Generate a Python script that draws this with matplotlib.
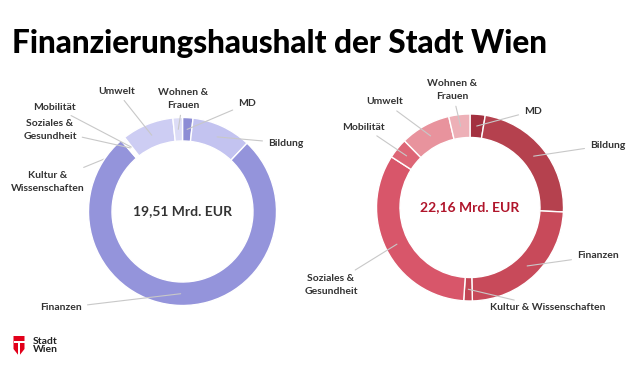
import numpy as np
import matplotlib.pyplot as plt
from matplotlib.patches import Polygon, Rectangle

plt.rcParams['font.family'] = ['Lato', 'DejaVu Sans']

# Anteile in Mrd. EUR
categories = ['MD', 'Bildung', 'Finanzen', 'Kultur & Wissenschaften',
              'Soziales & Gesundheit', 'Mobilität', 'Umwelt', 'Wohnen & Frauen']
einnahmen = [0.35, 2.00, 14.95, 0.05, 0.05, 0.05, 1.74, 0.32]
ausgaben = [0.58, 5.13, 5.28, 0.33, 7.32, 0.78, 1.93, 0.81]
totals = ['19,51 Mrd. EUR', '22,16 Mrd. EUR']

colors_left = ['#8d8dd5', '#c3c3f0', '#9494db', '#a5a5e0', '#b3b3e6',
               '#bdbdea', '#cdcdf3', '#dcdcf6']
colors_right = ['#a3303f', '#b5414e', '#c84a5a', '#c24555', '#d8566a',
                '#dd6676', '#e8939d', '#edb0b7']

# label positions (pixel coords, y from top) and alignment
labels_left = {
    'MD': ('MD', 238, 104, 'left'),
    'Bildung': ('Bildung', 268, 143, 'left'),
    'Finanzen': ('Finanzen', 82, 308, 'right'),
    'Kultur & Wissenschaften': ('Kultur &\nWissenschaften', 48, 182, 'center'),
    'Soziales & Gesundheit': ('Soziales &\nGesundheit', 50, 130, 'center'),
    'Mobilität': ('Mobilität', 76, 107, 'right'),
    'Umwelt': ('Umwelt', 135, 91, 'right'),
    'Wohnen & Frauen': ('Wohnen &\nFrauen', 183, 99, 'center'),
}
labels_right = {
    'MD': ('MD', 524, 111, 'left'),
    'Bildung': ('Bildung', 590, 145, 'left'),
    'Finanzen': ('Finanzen', 577, 256, 'left'),
    'Kultur & Wissenschaften': ('Kultur & Wissenschaften', 490, 308, 'left'),
    'Soziales & Gesundheit': ('Soziales &\nGesundheit', 331, 285, 'center'),
    'Mobilität': ('Mobilität', 385, 127, 'right'),
    'Umwelt': ('Umwelt', 403, 102, 'right'),
    'Wohnen & Frauen': ('Wohnen &\nFrauen', 452, 90, 'center'),
}

H = 375
fig = plt.figure(figsize=(6.4, 3.75), dpi=100)
ax = fig.add_axes([0, 0, 1, 1])


def donut(values, colors, center, radius, labels, total, total_color, behind=()):
    wedges, _ = ax.pie(values, colors=colors, center=center, radius=radius,
                       startangle=90, counterclock=False,
                       wedgeprops=dict(width=23.5, edgecolor='white', linewidth=1))
    r_mid = radius - 11.75
    for w, cat in zip(wedges, categories):
        ang = np.deg2rad((w.theta1 + w.theta2) / 2)
        px = center[0] + r_mid * np.cos(ang)
        py = center[1] + r_mid * np.sin(ang)
        txt, tx, ty, ha = labels[cat]
        ax.annotate(txt, xy=(px, py), xytext=(tx, H - ty), ha=ha, va='center',
                    fontsize=7.5, fontweight='bold', color='#333333',
                    linespacing=1.5, zorder=0 if cat in behind else 3,
                    arrowprops=dict(arrowstyle='-', color='#c8c8c8', lw=0.8,
                                    shrinkA=2, shrinkB=0))
    ax.text(center[0], center[1], total, ha='center', va='center',
            fontsize=10, fontweight='bold', color=total_color)


donut(einnahmen, colors_left, (182.5, H - 211.5), 94, labels_left,
      totals[0], '#333333', behind=('Kultur & Wissenschaften',))
donut(ausgaben, colors_right, (470, H - 207.5), 93.5, labels_right,
      totals[1], '#b0152b')

ax.set_xlim(0, 640)
ax.set_ylim(0, H)
ax.set_aspect('equal')
ax.axis('off')

fig.text(12 / 640, 1 - 43 / H, 'Finanzierungshaushalt der Stadt Wien',
         ha='left', va='center', fontsize=22.7, fontweight='black', color='black')

# Stadt Wien logo
shield = Polygon([(13.5, H - 336), (24.5, H - 336), (24.5, H - 349),
                  (19, H - 356), (13.5, H - 349)], closed=True,
                 facecolor='#e2001a', edgecolor='none')
ax.add_patch(shield)
ax.add_patch(Rectangle((13.5, H - 343), 11, 1.6, facecolor='white', edgecolor='none'))
ax.add_patch(Rectangle((18.3, H - 356), 1.4, 14, facecolor='white', edgecolor='none'))
ax.text(33, H - 345.5, 'Stadt\nWien', ha='left', va='center', fontsize=7.5,
        fontweight='bold', color='#222222', linespacing=1.0)

fig.savefig('out.png', dpi=100, facecolor='white')
